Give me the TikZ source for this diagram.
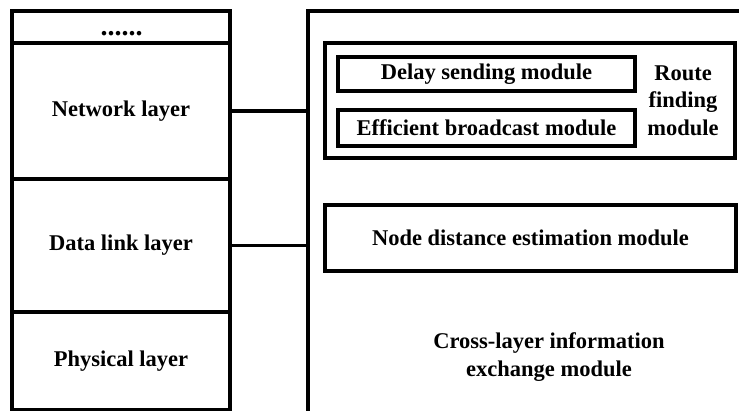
\documentclass[tikz,border=0pt]{standalone}
\usepackage{fontspec}
\setmainfont{Liberation Serif}[BoldFont={Liberation Serif Bold}]
\usepackage{tikz}
\usetikzlibrary{calc}

\begin{document}
\begin{tikzpicture}[x=1pt, y=-1pt,
    font=\fontsize{22.5}{27}\selectfont\bfseries,
    layerbox/.style={draw, line width=3.2pt, inner sep=0pt},
    modbox/.style={draw, line width=3.2pt, inner sep=0pt},
    link/.style={line width=3.2pt}]
        \useasboundingbox (0,0) rectangle (739,410);
        \clip (0,0) rectangle (739,410);
        % Protocol stack
        \node[layerbox, minimum width=218pt, minimum height=32pt] (dots) at (121,27) {};
        \node[anchor=base, font=\fontsize{28}{30}\selectfont\bfseries] (dotstext) at (121.5,35) {......};
        \node[layerbox, minimum width=218pt, minimum height=136pt] (net) at (121,111) {Network layer};
        \node[layerbox, minimum width=218pt, minimum height=133pt] (dll) at (121,245.5) {Data link layer};
        \node[layerbox, minimum width=218pt, minimum height=98pt] (phy) at (121,361) {Physical layer};
        % Cross-layer box (runs off the page)
        \node[layerbox, minimum width=452pt, minimum height=419pt] (xbox) at (534,220.5) {};
        \node[align=center] (xtext) at (549,357) {Cross-layer information\\[1.5pt]exchange module};
        % Route finding
        \node[modbox, minimum width=410pt, minimum height=115pt] (route) at (530,100.5) {};
        \node[modbox, minimum width=297pt, minimum height=34pt] (delay) at (486.5,74) {Delay sending module};
        \node[modbox, minimum width=297pt, minimum height=36pt] (bcast) at (486.5,128) {Efficient broadcast module};
        \node[align=center, font=\fontsize{22.5}{27.5}\selectfont\bfseries] (rtext) at (683,100.5) {Route\\finding\\module};
        % Distance estimation
        \node[modbox, minimum width=411pt, minimum height=66pt] (dist) at (530.5,238) {Node distance estimation module};
        % Links
        \draw[link] (net.east) -- (net.east -| xbox.west);
        \draw[link] (dll.east) -- (dll.east -| xbox.west);
      \end{tikzpicture}
\end{document}
